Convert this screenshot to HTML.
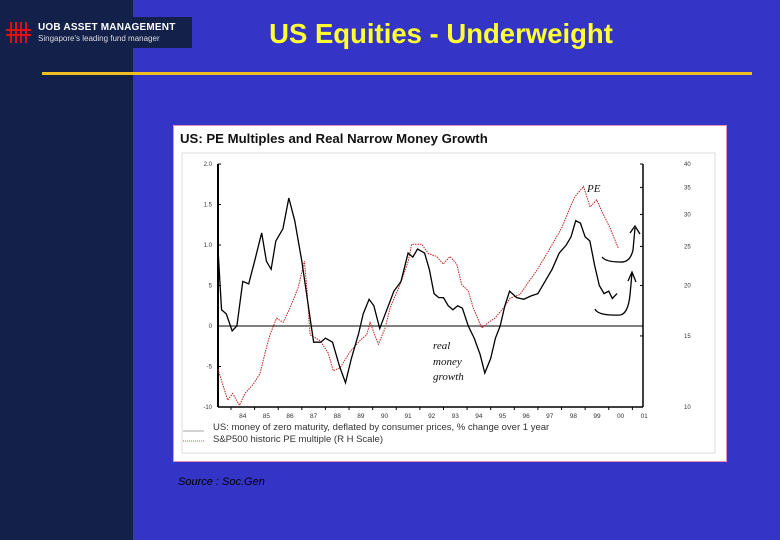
<!DOCTYPE html>
<html><head><meta charset="utf-8">
<style>
html,body{margin:0;padding:0}
body{width:780px;height:540px;background:#3434c6;position:relative;overflow:hidden;font-family:"Liberation Sans",sans-serif}
.abs{position:absolute}
</style></head>
<body>
<div class="abs" style="left:0;top:0;width:133px;height:540px;background:#13204a"></div>
<div class="abs" style="left:0;top:17px;width:192px;height:31px;background:#13204a">
  <svg width="30" height="31" class="abs" style="left:3px;top:0">
    <g stroke="#e01010" stroke-width="2"><line x1="8" y1="5" x2="8" y2="26"/><line x1="13" y1="5" x2="13" y2="26"/><line x1="18" y1="5" x2="18" y2="26"/><line x1="23" y1="5" x2="23" y2="26"/><line x1="3" y1="13" x2="28" y2="13"/><line x1="3" y1="18" x2="28" y2="18"/></g>
  </svg>
  <div class="abs" style="left:38px;top:5px;color:#fff;font-size:10px;font-weight:bold;letter-spacing:0.2px;white-space:nowrap">UOB ASSET MANAGEMENT</div>
  <div class="abs" style="left:38px;top:17px;color:#ddd;font-size:8px;white-space:nowrap">Singapore's leading fund manager</div>
</div>
<div class="abs" style="left:221px;top:18px;width:440px;text-align:center;color:#ffff33;font-size:27.5px;font-weight:bold">US Equities - Underweight</div>
<div class="abs" style="left:42px;top:72px;width:710px;height:3px;background:#f0c020"></div>

<div class="abs" style="left:173px;top:125px;width:552px;height:335px;background:#fff;border:1px solid #e090c0"></div>
<div class="abs" style="left:180px;top:131px;font-size:13.2px;font-weight:bold;color:#111;white-space:nowrap">US: PE Multiples and Real Narrow Money Growth</div>
<div class="abs" style="left:178px;top:476px;font-size:11px;font-style:italic;color:#000">Source : Soc.Gen</div>

<svg class="abs" style="left:0;top:0" width="780" height="540" id="chart"></svg>

<script>
const moneyYears=[83.45,83.6,83.8,84.05,84.25,84.5,84.75,85.0,85.3,85.5,85.7,85.9,86.2,86.45,86.7,87.0,87.3,87.5,87.8,88.0,88.3,88.6,88.85,89.1,89.4,89.6,89.85,90.05,90.3,90.6,90.9,91.2,91.5,91.7,91.9,92.2,92.4,92.6,92.8,93.0,93.2,93.4,93.6,93.8,94.05,94.3,94.55,94.75,95.0,95.2,95.4,95.6,95.8,96.1,96.4,96.7,97.0,97.3,97.6,97.9,98.2,98.4,98.6,98.8,99.0,99.2,99.4,99.6,99.8,100.0,100.15,100.35];
const moneyValues=[9.5,2,1.5,-0.6,0,5.5,5.2,8,11.5,8,7,10.5,12,15.8,13,8,2,-2,-2,-1.5,-2,-5,-7,-4,-1,1.5,3.3,2.5,-0.3,2,4.3,5.5,9,8.5,9.5,9,7,4,3.5,3.5,2.5,2,2.5,2.2,0,-1.5,-3.5,-5.8,-4,-1.5,0,2.5,4.3,3.5,3.3,3.7,4,5.5,7,9,10,11,13,12.7,11,10.5,7.5,5,4,4.3,3.4,4];
const peYears=[83.45,83.86,84.07,84.36,84.59,84.95,85.23,85.44,85.65,85.93,86.21,86.50,86.85,87.11,87.21,87.35,87.77,88.12,88.33,88.62,89.04,89.46,89.75,89.89,90.24,90.53,90.74,91.16,91.51,91.65,92.08,92.36,92.71,92.99,93.27,93.56,93.77,94.05,94.26,94.62,94.90,95.18,95.54,95.82,96.24,96.60,96.95,97.31,97.66,98.01,98.37,98.57,98.93,99.21,99.49,99.77,100.05,100.41];
const peValues=[12.4,10.4,10.8,10.1,10.8,11.4,12.1,13.6,15.1,16.6,16.2,17.6,19.8,23.0,19.8,15.1,14.6,13.6,12.3,12.5,13.7,14.6,15.1,16.2,14.3,15.7,17.6,20.1,23.0,25.3,25.3,24.0,23.6,22.6,23.6,22.6,20.1,19.4,17.6,15.7,16.2,16.6,17.6,18.6,19.0,20.4,21.8,23.6,25.6,27.8,31.3,33.2,35.2,31.3,32.6,30.0,27.8,24.7];
const leftTicks=[20,15,10,5,0,-5,-10];
const leftTickLabels=["2.0","1.5","1.0","5","0","-5","-10"];
const rightTicks=[40,35,30,25,20,15,10];
const yearTicks=[84,85,86,87,88,89,90,91,92,93,94,95,96,97,98,99,100,101];
const yearLabels=["84","85","86","87","88","89","90","91","92","93","94","95","96","97","98","99","00","01"];

const X0=218,X1=643,Y0=164,Y1=407;
const xMin=83.45,xMax=101.45;
const xs=v=>X0+(v-xMin)/(xMax-xMin)*(X1-X0);
const yl=v=>Y1-(v+10)/30*(Y1-Y0);
const yr=v=>Y1-Math.log(v/10)/Math.log(4)*(Y1-Y0);
const svg=document.getElementById('chart');
const NS='http://www.w3.org/2000/svg';
function mk(t,a){const e=document.createElementNS(NS,t);for(const k in a)e.setAttribute(k,a[k]);svg.appendChild(e);return e;}

let e=mk('rect',{x:182,y:153,width:533,height:300,fill:'none',stroke:'#ddd'});


e=mk('line',{x1:X0,y1:Y0,x2:X0,y2:Y1,stroke:'#000','stroke-width':2});


e=mk('line',{x1:X1,y1:Y0,x2:X1,y2:Y1,stroke:'#000','stroke-width':1.5});


e=mk('line',{x1:X0,y1:Y1,x2:X1,y2:Y1,stroke:'#000','stroke-width':1.5});


e=mk('line',{x1:X0,y1:yl(0),x2:X1,y2:yl(0),stroke:'#000','stroke-width':1});



leftTicks.forEach((v,i)=>{
  const t=mk('text',{x:212,y:yl(v)+2,'font-size':6,'text-anchor':'end',fill:'#333','font-family':'Liberation Sans, sans-serif'});
  t.textContent=leftTickLabels[i];
  
  
  const l=mk('line',{x1:X0,y1:yl(v),x2:X0+3,y2:yl(v),stroke:'#000'});
  
  
});
rightTicks.forEach(v=>{
  const t=mk('text',{x:684,y:yr(v)+2,'font-size':6,'text-anchor':'start',fill:'#333','font-family':'Liberation Sans, sans-serif'});
  t.textContent=v;
  
  
  const l=mk('line',{x1:X1,y1:yr(v),x2:X1-3,y2:yr(v),stroke:'#000'});
  
  
});
yearTicks.forEach((v,i)=>{
  const t=mk('text',{x:xs(v+0.5),y:418,'font-size':6.5,'text-anchor':'middle',fill:'#333','font-family':'Liberation Sans, sans-serif'});
  t.textContent=yearLabels[i];
  
  
  const l=mk('line',{x1:xs(v),y1:Y1,x2:xs(v),y2:Y1+3,stroke:'#000'});
  
  
});

e=mk('polyline',{points:peYears.map((y,i)=>xs(y)+','+yr(peValues[i])).join(' '),fill:'none',stroke:'#c02020','stroke-width':1,'stroke-dasharray':'1.5,1'});


e=mk('polyline',{points:moneyYears.map((y,i)=>xs(y)+','+yl(moneyValues[i])).join(' '),fill:'none',stroke:'#000','stroke-width':1.3});



// hand-drawn annotations
e=mk('path',{d:'M602,257 Q606,262 620,262 Q630,263 633,250 L635,228 M630,233 L635,226 L640,234',fill:'none',stroke:'#000','stroke-width':1.3});


e=mk('path',{d:'M595,309 Q598,316 620,315 Q628,314 630,295 L632,273 M628,281 L632,272 L636,282',fill:'none',stroke:'#000','stroke-width':1.3});


const notes=[['PE',587,192,'pe-annotation-label'],['real',433,349,'money-annotation-word'],['money',433,365,'money-annotation-word'],['growth',433,380,'money-annotation-word']];
notes.forEach(n=>{
  const t=mk('text',{x:n[1],y:n[2],'font-size':11,'font-style':'italic',fill:'#111','font-family':'Liberation Serif, serif'});
  t.textContent=n[0];
  
  
});

// legend
e=mk('line',{x1:183,y1:431,x2:204,y2:431,stroke:'#888','stroke-width':0.7});


e=mk('line',{x1:183,y1:441,x2:204,y2:441,stroke:'#c02020','stroke-width':0.7,'stroke-dasharray':'1,1'});


const leg=[['US: money of zero maturity, deflated by consumer prices, % change over 1 year',430,'legend-money-label'],['S&P500 historic PE multiple (R H Scale)',442,'legend-pe-label']];
leg.forEach(n=>{
  const t=mk('text',{x:213,y:n[1],'font-size':9.5,fill:'#333','font-family':'Liberation Sans, sans-serif'});
  t.textContent=n[0];
  
  
});
</script>
</body></html>
